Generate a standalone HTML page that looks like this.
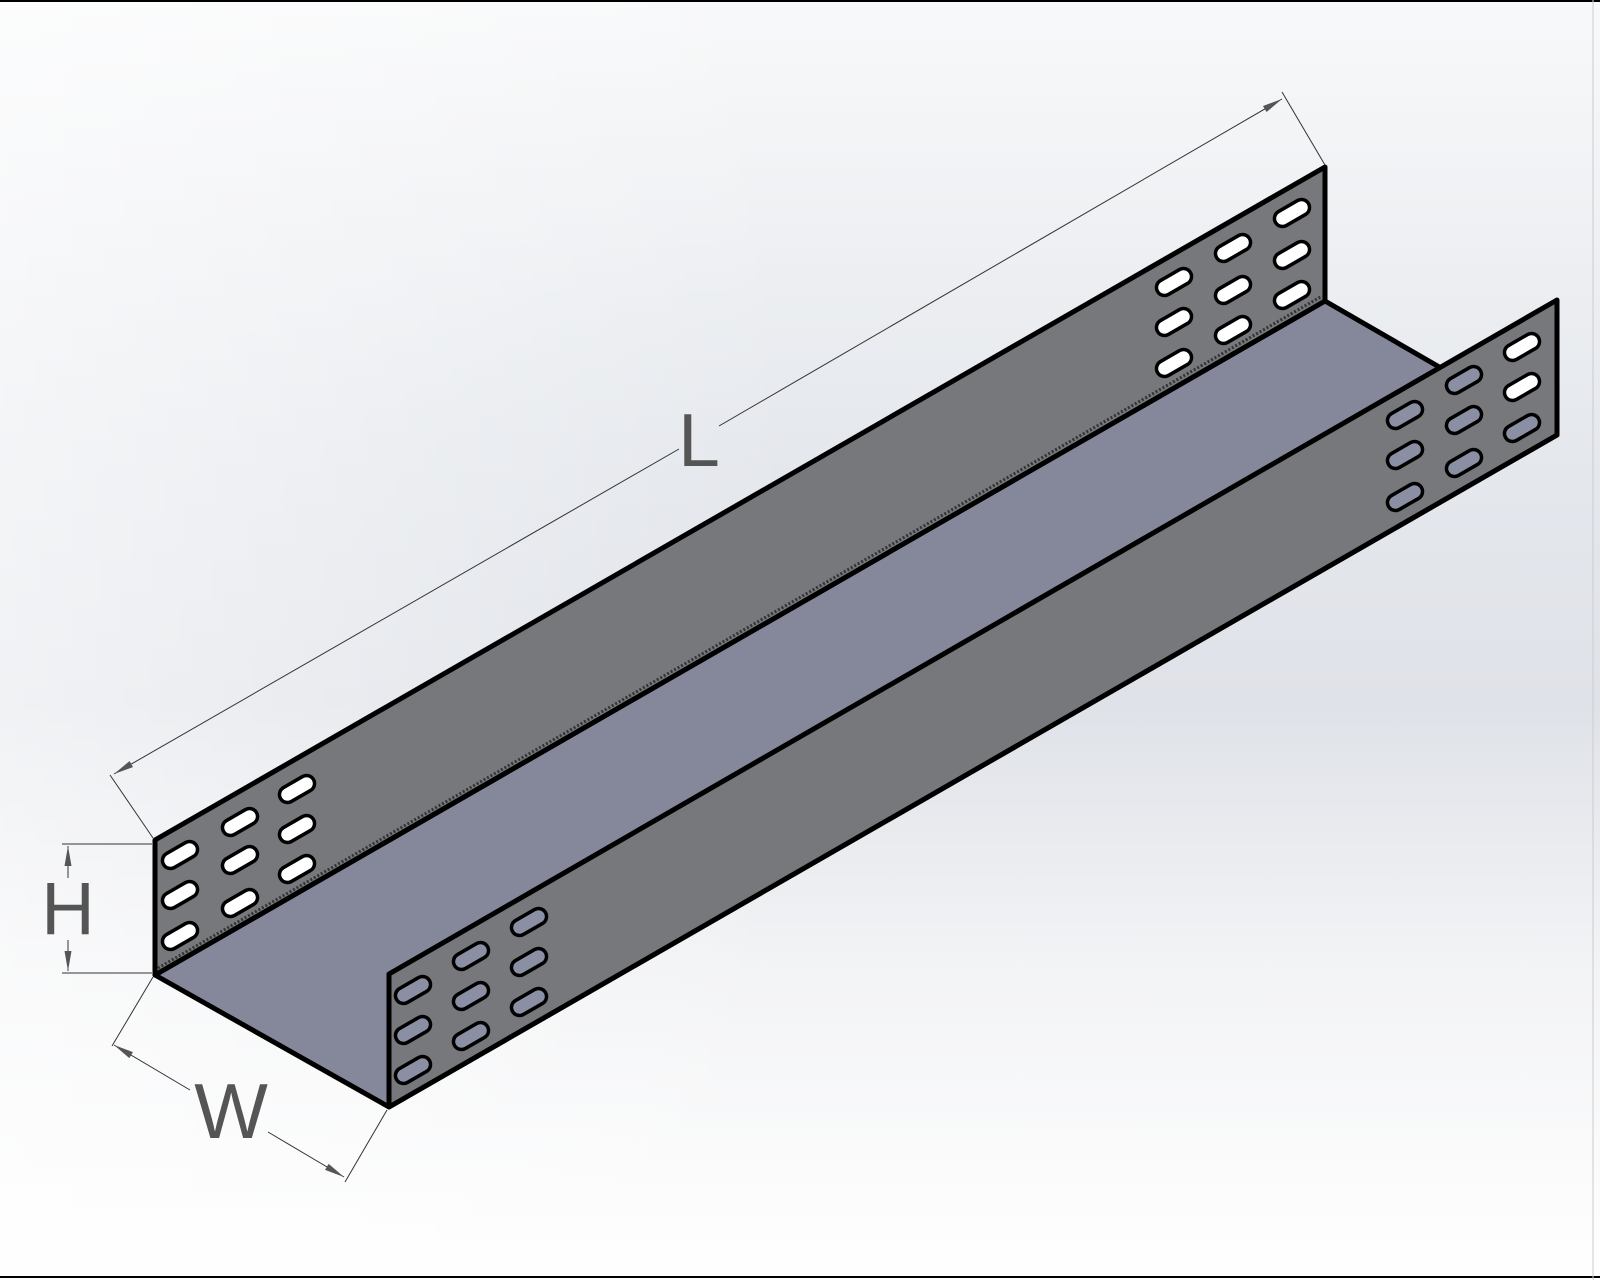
<!DOCTYPE html>
<html><head><meta charset="utf-8"><style>
html,body{margin:0;padding:0;width:1600px;height:1280px;overflow:hidden;background:#fff}
svg{display:block}
</style></head><body>
<svg width="1600" height="1280" viewBox="0 0 1600 1280" xmlns="http://www.w3.org/2000/svg">
<defs>
<linearGradient id="bg" x1="0" y1="0" x2="0" y2="1">
<stop offset="0" stop-color="#f8f9fa"/>
<stop offset="0.35" stop-color="#e5e8ed"/>
<stop offset="0.55" stop-color="#dfe2e8"/>
<stop offset="0.75" stop-color="#f2f3f5"/>
<stop offset="1" stop-color="#ffffff"/>
</linearGradient>
<linearGradient id="bgx" x1="0" y1="0" x2="1" y2="0">
<stop offset="0" stop-color="#ffffff" stop-opacity="0.55"/>
<stop offset="0.5" stop-color="#ffffff" stop-opacity="0"/>
<stop offset="1" stop-color="#ffffff" stop-opacity="0"/>
</linearGradient>
<marker id="arH" viewBox="0 0 20 7" refX="20" refY="3.5" markerWidth="20" markerHeight="7" markerUnits="userSpaceOnUse" orient="auto">
<path d="M0,0 L20,3.5 L0,7 z" fill="#555"/>
</marker>
<g id="slot"><rect x="-19" y="-8" width="38" height="16" rx="8" ry="8" transform="rotate(-30)" stroke="#000" stroke-width="3.5"/></g>
</defs>
<rect width="1600" height="1280" fill="url(#bg)"/>
<rect width="1600" height="1280" fill="url(#bgx)"/>

<polygon points="155,975 389,1107 1557,435 1325,301" fill="#84889a" stroke="#000" stroke-width="5" stroke-linejoin="round"/>
<polygon points="155,840 1325,167 1325,301 155,975" fill="#76787c" stroke="#000" stroke-width="5" stroke-linejoin="round"/>
<line x1="158" y1="968" x2="1322" y2="296" stroke="#333" stroke-width="3" stroke-dasharray="2,2"/>
<polygon points="389,974 1557,300 1557,435 389,1107" fill="#76787c" stroke="#000" stroke-width="5" stroke-linejoin="round"/>

<g fill="#fff">
<use href="#slot" x="180" y="855"/><use href="#slot" x="180" y="895"/><use href="#slot" x="180" y="936"/>
<use href="#slot" x="240" y="822"/><use href="#slot" x="240" y="860"/><use href="#slot" x="240" y="903"/>
<use href="#slot" x="297" y="789"/><use href="#slot" x="297" y="829"/><use href="#slot" x="297" y="869"/>
<use href="#slot" x="1174" y="282"/><use href="#slot" x="1174" y="322"/><use href="#slot" x="1174" y="363"/>
<use href="#slot" x="1233" y="248"/><use href="#slot" x="1233" y="290"/><use href="#slot" x="1233" y="330"/>
<use href="#slot" x="1292" y="213"/><use href="#slot" x="1292" y="255"/>
<use href="#slot" x="1292" y="295"/>
<use href="#slot" x="1522" y="347"/><use href="#slot" x="1522" y="387"/>
</g>
<g fill="#8b8fa3">
<use href="#slot" x="1405" y="415"/><use href="#slot" x="1405" y="455"/><use href="#slot" x="1405" y="497"/>
<use href="#slot" x="1464" y="380"/><use href="#slot" x="1464" y="420"/><use href="#slot" x="1464" y="463"/>
<use href="#slot" x="1522" y="428"/>
<use href="#slot" x="413" y="990"/><use href="#slot" x="413" y="1030"/><use href="#slot" x="413" y="1070"/>
<use href="#slot" x="471" y="956"/><use href="#slot" x="471" y="996"/><use href="#slot" x="471" y="1036"/>
<use href="#slot" x="529" y="922"/><use href="#slot" x="529" y="962"/><use href="#slot" x="529" y="1002"/>
</g>

<g stroke="#333" stroke-width="1" fill="none">
<line x1="153" y1="838" x2="110" y2="775"/>
<line x1="1325" y1="165" x2="1282" y2="92"/>
<line x1="679" y1="449" x2="114" y2="774" marker-end="url(#arH)"/>
<line x1="719" y1="426" x2="1282" y2="99" marker-end="url(#arH)"/>
<line x1="62" y1="844" x2="152" y2="844"/>
<line x1="62" y1="973" x2="152" y2="973"/>
<line x1="68" y1="878" x2="68" y2="846" marker-end="url(#arH)"/>
<line x1="68" y1="940" x2="68" y2="971" marker-end="url(#arH)"/>
<line x1="153" y1="977" x2="112" y2="1046"/>
<line x1="387" y1="1110" x2="345" y2="1182"/>
<line x1="190" y1="1090" x2="114" y2="1045" marker-end="url(#arH)"/>
<line x1="268" y1="1132" x2="344" y2="1177" marker-end="url(#arH)"/>
</g>
<g fill="#555" font-family="Liberation Sans, sans-serif">
<text x="699" y="466" font-size="75" text-anchor="middle">L</text>
<text x="68" y="934" font-size="74" text-anchor="middle">H</text>
<text x="231" y="1138" font-size="78" text-anchor="middle">W</text>
</g>

<line x1="0" y1="1" x2="1600" y2="1" stroke="#000" stroke-width="2"/>
<line x1="0" y1="1277" x2="1600" y2="1277" stroke="#000" stroke-width="2"/>
<line x1="1593" y1="0" x2="1593" y2="1280" stroke="#ccc" stroke-width="1"/>
</svg>
</body></html>
